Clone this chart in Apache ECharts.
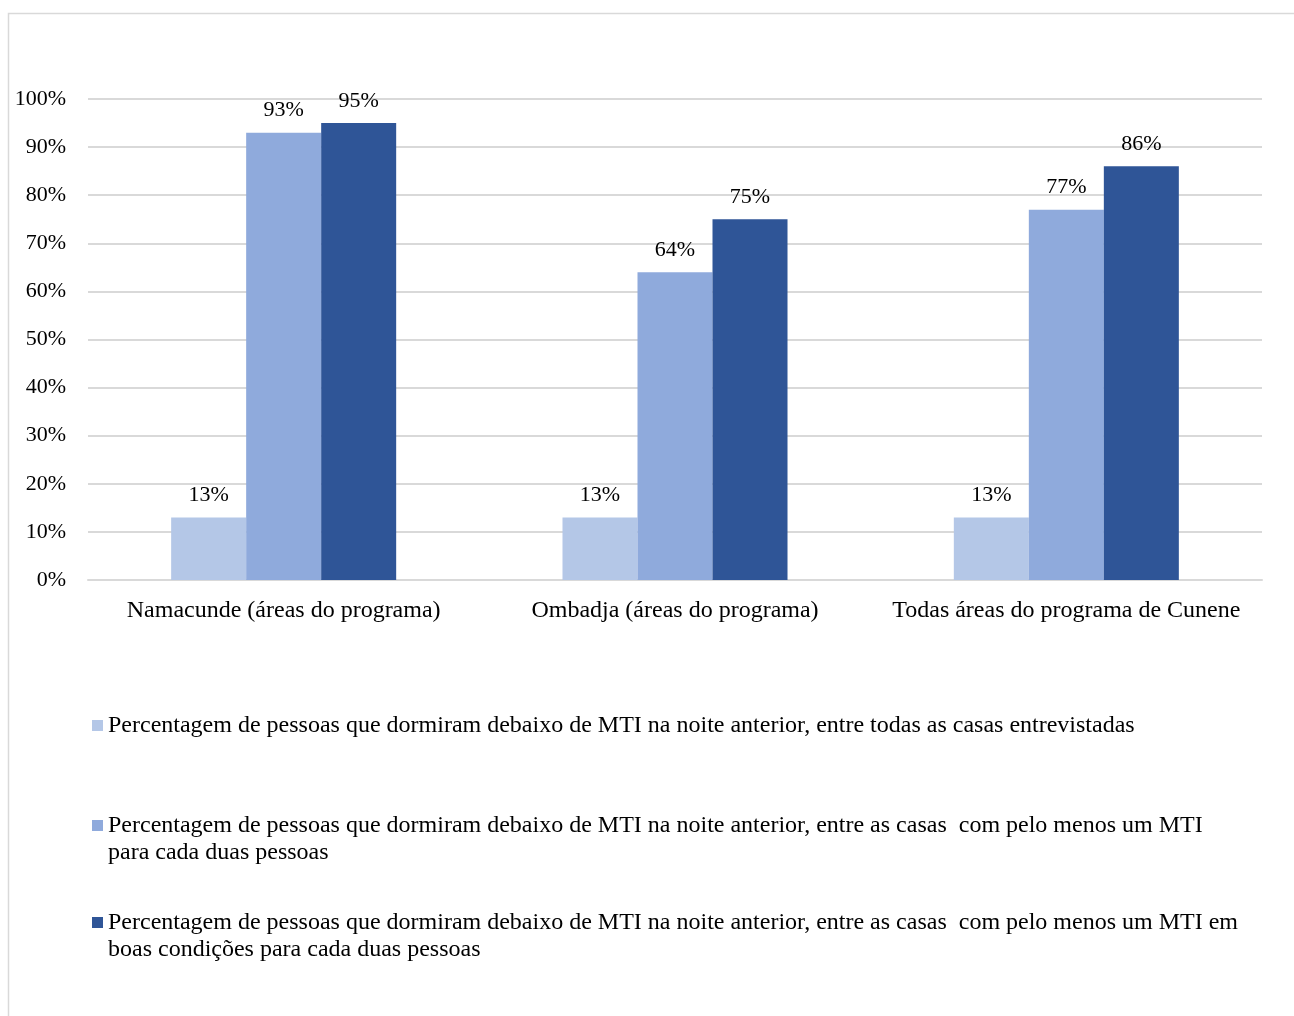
<!DOCTYPE html>
<html>
<head>
<meta charset="utf-8">
<script src="https://cdn.jsdelivr.net/npm/echarts@6/dist/echarts.min.js"></script>
<style>
  html, body { margin: 0; padding: 0; background: #ffffff; }
  #chart { width: 1294px; height: 1016px; }
</style>
</head>
<body>
<div id="chart"></div>
<script>
// Categories (program areas)
const categories = [
  'Namacunde (áreas do programa)',
  'Ombadja (áreas do programa)',
  'Todas áreas do programa de Cunene'
];

// Series names
const seriesNames = [
  'Percentagem de pessoas que dormiram debaixo de MTI na noite anterior, entre todas as casas entrevistadas',
  'Percentagem de pessoas que dormiram debaixo de MTI na noite anterior, entre as casas  com pelo menos um MTI para cada duas pessoas',
  'Percentagem de pessoas que dormiram debaixo de MTI na noite anterior, entre as casas  com pelo menos um MTI em boas condições para cada duas pessoas'
];

// Values (%)
const allHouses = [13, 13, 13];
const oneNetPerTwo = [93, 64, 77];
const goodNetPerTwo = [95, 75, 86];

// Where each legend entry wraps onto its second line (null = single line)
const legendBreaks = [null, 'para cada duas pessoas', 'boas condições para cada duas pessoas'];

const colors = ['#b4c7e7', '#8faadc', '#2f5597'];
const FONT = '"Liberation Serif", "Times New Roman", serif';

const chart = echarts.init(document.getElementById('chart'));

const seriesData = [allHouses, oneNetPerTwo, goodNetPerTwo];

function wrapName(name, tail) {
  if (!tail) return name;
  const k = name.lastIndexOf(tail);
  // leading blank line keeps the marker level with the first text line
  return '\n' + name.slice(0, k).replace(/\s+$/, '') + '\n' + tail;
}

function makeLegend(i, top) {
  return {
    show: true,
    orient: 'vertical',
    left: 87,
    top: top,
    itemWidth: 11,
    itemHeight: 11,
    itemGap: 0,
    icon: 'rect',
    data: [seriesNames[i]],
    formatter: (n) => wrapName(n, legendBreaks[i]),
    textStyle: {
      fontFamily: FONT,
      fontSize: 24,
      color: '#000000',
      lineHeight: 27
    }
  };
}

const option = {
  animation: false,
  backgroundColor: '#ffffff',
  grid: { left: 88, right: 32, top: 99, bottom: 436, containLabel: false },
  xAxis: {
    type: 'category',
    data: categories,
    axisLine: { show: true, lineStyle: { color: '#d9d9d9', width: 2 } },
    axisTick: { show: false },
    axisLabel: {
      fontFamily: FONT, fontSize: 24, color: '#000000', margin: 19, interval: 0
    }
  },
  yAxis: {
    type: 'value',
    min: 0,
    max: 100,
    interval: 10,
    axisLine: { show: false },
    axisTick: { show: false },
    splitLine: { lineStyle: { color: '#d9d9d9', width: 2 } },
    axisLabel: {
      fontFamily: FONT, fontSize: 22, color: '#000000', margin: 22,
      padding: [3, 0, 0, 0],
      formatter: (v) => v + '%'
    }
  },
  legend: [
    makeLegend(0, 707),
    makeLegend(1, 780),
    makeLegend(2, 877)
  ],
  graphic: [{
    type: 'rect',
    shape: { x: 8.5, y: 13.5, width: 1300, height: 1020 },
    style: { fill: 'none', stroke: '#d9d9d9', lineWidth: 1.5 },
    silent: true,
    z: -1
  }],
  series: seriesData.map((d, i) => ({
    name: seriesNames[i],
    type: 'bar',
    data: d,
    barGap: '0%',
    barCategoryGap: '42.5%',
    itemStyle: { color: colors[i] },
    label: {
      show: true,
      position: 'top',
      distance: 11,
      fontFamily: FONT,
      fontSize: 22,
      color: '#000000',
      formatter: (p) => p.value + '%'
    }
  }))
};

chart.setOption(option);
</script>
</body>
</html>
